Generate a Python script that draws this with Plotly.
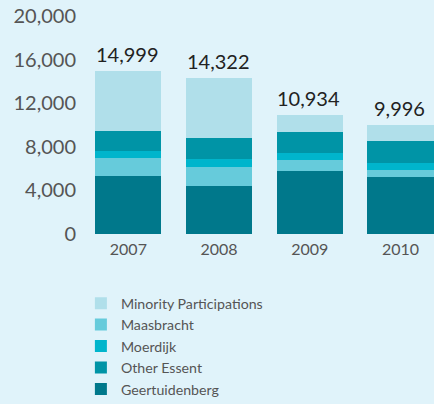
import plotly.graph_objects as go

years = ["2007", "2008", "2009", "2010"]
geertruidenberg = [5360, 4450, 5820, 5270]
maasbracht = [1640, 1730, 1000, 640]
moerdijk = [640, 730, 640, 640]
other_essent = [1830, 1920, 1920, 2010]
minority = [5529, 5492, 1554, 1436]
totals = [14999, 14322, 10934, 9996]
y_ticks = [0, 4000, 8000, 12000, 16000, 20000]

# (name, values, colour, legend rank) in stacking order bottom -> top
series = [
    ("Geertuidenberg", geertruidenberg, "#00788b", 5),
    ("Maasbracht", maasbracht, "#66cbdb", 2),
    ("Moerdijk", moerdijk, "#00b5cc", 3),
    ("Other Essent", other_essent, "#0094a6", 4),
    ("Minority Participations", minority, "#b0dfea", 1),
]

BG = "#e0f3fa"
FONT = "Lato"
fig = go.Figure()
for name, vals, col, rank in series:
    fig.add_trace(go.Bar(x=years, y=vals, name=name, legendrank=rank,
                         marker=dict(color=col, line=dict(width=0)), hoverinfo="skip"))

# category axis: annotation x given as category index
for i, t in enumerate(totals):
    fig.add_annotation(x=i, y=t, xref="x", yref="y", text=f"{t:,}", showarrow=False,
                       yanchor="bottom", yshift=3, xshift=-1,
                       font=dict(family=FONT, size=20, color="#222222"))

fig.update_layout(
    width=434, height=404,
    barmode="stack", bargap=0.27,
    paper_bgcolor=BG, plot_bgcolor=BG,
    margin=dict(l=83, r=0, t=16, b=170, autoexpand=False),
    showlegend=True,
    legend=dict(traceorder="normal", x=-0.006, xanchor="left", y=-0.245, yanchor="top",
                font=dict(family=FONT, size=14.2, color="#555555"), tracegroupgap=0,
                bgcolor="rgba(0,0,0,0)"),
    xaxis=dict(type="category", range=[-0.5, 3.37], showgrid=False, zeroline=False,
               showline=False, tickfont=dict(family=FONT, size=16, color="#555555"),
               ticks="", ticklabelstandoff=4),
    yaxis=dict(range=[0, 20000], tickvals=y_ticks, tickformat=",", showgrid=False, zeroline=False,
               showline=False, tickfont=dict(family=FONT, size=20, color="#555555"), ticks="",
               ticklabelstandoff=6),
)

fig.write_html(
    "out.html",
    config={"displayModeBar": False},
    post_script=f"document.body.style.margin='0';document.body.style.overflow='hidden';"
                f"document.body.style.background='{BG}';",
)
